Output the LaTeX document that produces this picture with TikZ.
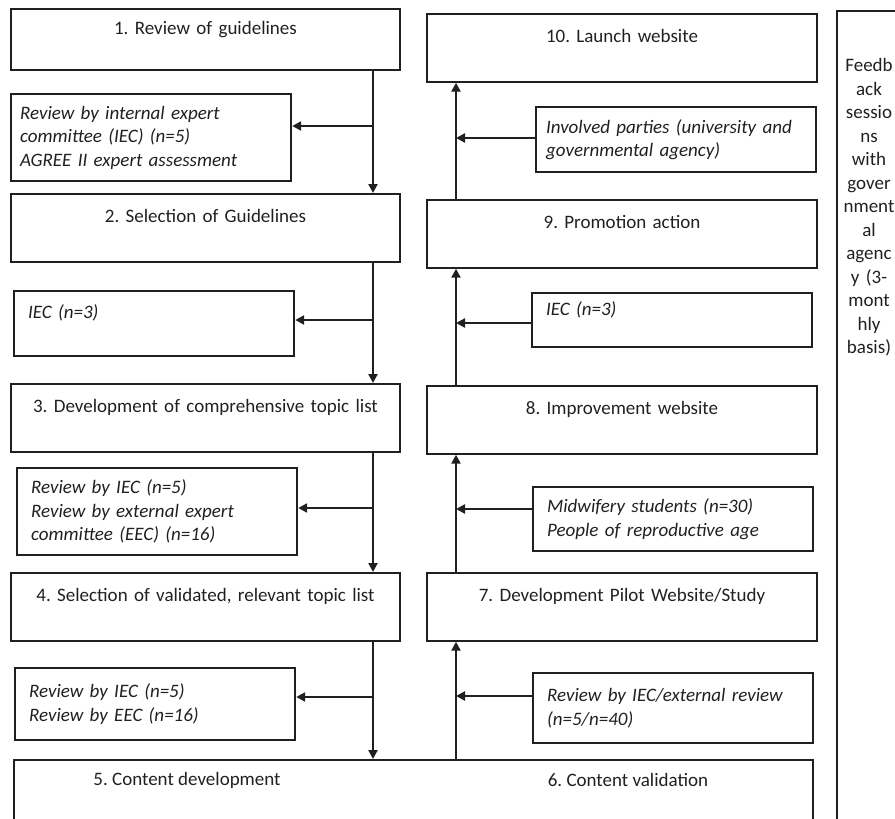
\documentclass[tikz,border=0pt]{standalone}
\usepackage{fontspec}
\setmainfont{Carlito}
\usetikzlibrary{arrows.meta}
\definecolor{ink}{RGB}{35,31,32}
\frenchspacing

\begin{document}
\begin{tikzpicture}[x=0.5pt,y=-0.5pt]
\tikzstyle{stepbox}=[draw=ink,line width=1.1pt,text=ink,anchor=north,minimum width=194.5pt,minimum height=33.75pt,text width=188pt,align=center,font=\fontsize{9.5}{11.75}\selectfont]
\tikzstyle{notebox}=[draw=ink,line width=1.1pt,text=ink,anchor=north west,text width=126pt,inner xsep=7pt,align=left,font=\fontsize{9.5}{11.75}\selectfont\itshape]
\tikzstyle{flow}=[draw=ink,line width=1.3pt,-{Triangle[length=4.5pt,width=4.5pt]}]
\clip (0,0) rectangle (895,819);

\node[stepbox,minimum height=30.5pt] (b1) at (205.5,8) {1. Review of guidelines\\\mbox{}};
\node[stepbox] (b2) at (205.5,193) {2. Selection of Guidelines\\\mbox{}};
\node[stepbox] (b3) at (205.5,383) {3. Development of comprehensive topic list\\\mbox{}};
\node[stepbox] (b4) at (205.5,572) {4. Selection of validated, relevant topic list\\\mbox{}};
\node[stepbox] (b10) at (622,13) {10. Launch website\\\mbox{}};
\node[stepbox] (b9) at (622,199) {9. Promotion action\\\mbox{}};
\node[stepbox] (b8) at (622,385) {8. Improvement website\\\mbox{}};
\node[stepbox] (b7) at (622,572) {7. Development Pilot Website/Study\\\mbox{}};

\node[draw=ink,line width=1.1pt,anchor=north west,minimum width=399.5pt,minimum height=36pt] (b56) at (13,759) {};
\node[text=ink,font=\fontsize{9.5}{11.75}\selectfont] (t5) at (187,780) {5. Content development};
\node[text=ink,font=\fontsize{9.5}{11.75}\selectfont] (t6) at (628,780) {6. Content validation};

\node[draw=ink,line width=0.9pt,anchor=north west,minimum width=40pt,minimum height=420pt] (fb) at (836,10) {};
\node[text=ink,anchor=north,align=center,text width=30pt,inner sep=0pt,font=\fontsize{9.5}{11.75}\selectfont] (fbtext) at (869,58)
  {Feedb\\ack\\sessio\\ns\\with\\gover\\nment\\al\\agenc\\y (3-\\mont\\hly\\basis)};

\node[notebox,minimum height=43.5pt,inner xsep=4.5pt,text width=131pt] (r1) at (10,93) {Review by internal expert\\committee (IEC) (n=5)\\AGREE II expert assessment};
\node[notebox,minimum height=32.5pt] (r2) at (13,290) {IEC (n=3)\\\mbox{}};
\node[notebox,minimum height=43.5pt] (r3) at (16,467) {Review by IEC (n=5)\\Review by external expert\\committee (EEC) (n=16)};
\node[notebox,minimum height=36pt] (r4) at (14,667) {Review by IEC (n=5)\\Review by EEC (n=16)};
\node[notebox,minimum height=32.5pt,inner xsep=5pt,text width=130pt] (s9) at (535,106) {Involved parties (university and\\governmental agency)};
\node[notebox,minimum height=27pt] (s8) at (531,292) {IEC (n=3)\\\mbox{}};
\node[notebox,minimum height=32pt] (s7) at (532,486) {Midwifery students (n=30)\\People of reproductive age};
\node[notebox,minimum height=35pt] (s6) at (532,672) {Review by IEC/external review\\(n=5/n=40)};

\coordinate (lsp) at (373,0);
\coordinate (rsp) at (456,0);
\coordinate (j1) at (373,126);
\coordinate (j2) at (373,320);
\coordinate (j3) at (373,508);
\coordinate (j4) at (373,697);
\coordinate (k1) at (456,138);
\coordinate (k2) at (456,323);
\coordinate (k3) at (456,509);
\coordinate (k4) at (456,696);

\draw[flow] (b1.south -| lsp) -- (b2.north -| lsp);
\draw[flow] (b2.south -| lsp) -- (b3.north -| lsp);
\draw[flow] (b3.south -| lsp) -- (b4.north -| lsp);
\draw[flow] (b4.south -| lsp) -- (b56.north -| lsp);
\draw[flow] (b56.north -| rsp) -- (b7.south -| rsp);
\draw[flow] (b7.north -| rsp) -- (b8.south -| rsp);
\draw[flow] (b8.north -| rsp) -- (b9.south -| rsp);
\draw[flow] (b9.north -| rsp) -- (b10.south -| rsp);
\foreach \j/\r in {j1/r1,j2/r2,j3/r3,j4/r4}
  \draw[flow] (\j) -- (\j -| \r.east);
\foreach \k/\s in {k1/s9,k2/s8,k3/s7,k4/s6}
  \draw[flow] (\s.west |- \k) -- (\k);
\end{tikzpicture}
\end{document}
